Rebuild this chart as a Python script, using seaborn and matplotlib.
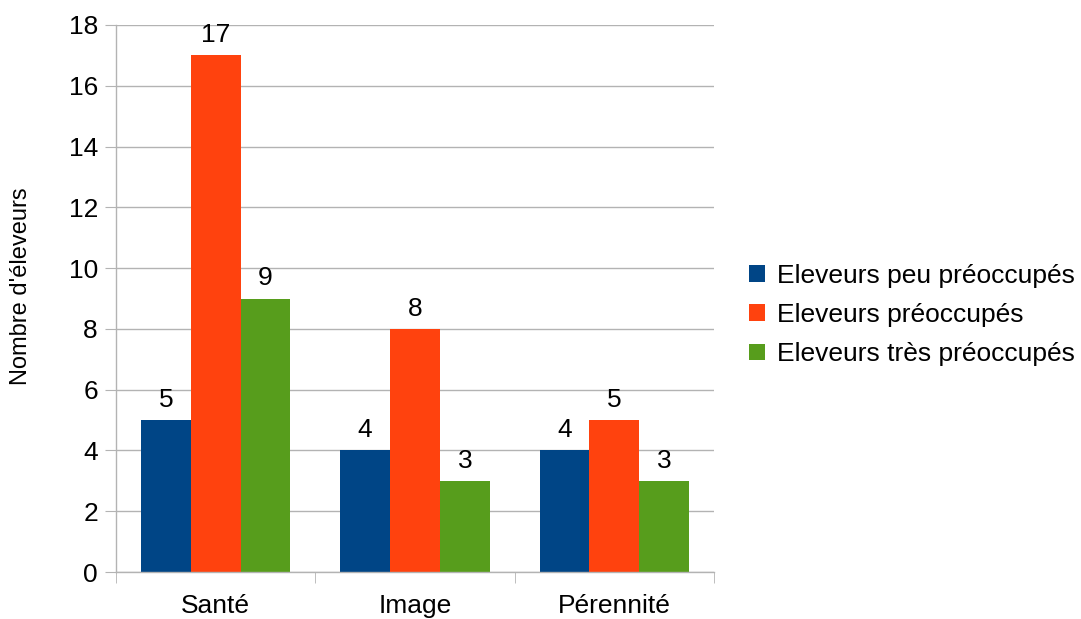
import matplotlib
matplotlib.use("Agg")
import matplotlib.pyplot as plt
import seaborn as sns
import pandas as pd

categories = ["Santé", "Image", "Pérennité"]
series_names = ["Eleveurs peu préoccupés", "Eleveurs préoccupés", "Eleveurs très préoccupés"]
peu = [5, 4, 4]
preoc = [17, 8, 5]
tres = [9, 3, 3]
colors = ["#004586", "#ff420e", "#579d1c"]

rows = []
for name, vals in zip(series_names, [peu, preoc, tres]):
    for c, v in zip(categories, vals):
        rows.append({"cat": c, "serie": name, "val": v})
df = pd.DataFrame(rows)

sns.set_style("white")
plt.rcParams["font.family"] = ["Liberation Sans", "DejaVu Sans"]
plt.rcParams["text.color"] = "black"
plt.rcParams["xtick.labelcolor"] = "black"
plt.rcParams["ytick.labelcolor"] = "black"
plt.rcParams["axes.labelcolor"] = "black"

fig = plt.figure(figsize=(10.81, 6.19), dpi=100)
ax = fig.add_axes([116/1081, 1-572/619, (714-116)/1081, (572-25)/619])

sns.barplot(data=df, x="cat", y="val", hue="serie", palette=colors,
            width=0.75, saturation=1, ax=ax, errorbar=None, legend=True,
            linewidth=0, edgecolor="none")

for cont in ax.containers:
    ax.bar_label(cont, fmt="%d", padding=6, fontsize=19, color="black")

ax.set_ylim(0, 18)
ax.set_yticks(range(0, 19, 2))
ax.set_xlim(-0.5, 2.5)
ax.yaxis.grid(True, color="#b3b3b3", linewidth=1)
ax.set_axisbelow(True)
ax.set_xlabel("")
ax.set_ylabel("Nombre d'éleveurs", fontsize=17, color="black")
ax.yaxis.set_label_coords(-(116-32)/598, (572-286)/547)
for s in ["top", "right"]:
    ax.spines[s].set_visible(False)
for s in ["left", "bottom"]:
    ax.spines[s].set_color("#b3b3b3")
    ax.spines[s].set_linewidth(1)
ax.tick_params(axis="y", length=8, color="#b3b3b3", labelsize=19, pad=5, left=True, labelcolor="black")
ax.tick_params(axis="x", which="major", length=0, labelsize=19, pad=16, labelcolor="black")
ax.set_xticks([-0.5, 0.5, 1.5, 2.5], minor=True)
ax.tick_params(axis="x", which="minor", length=8, color="#b3b3b3", bottom=True)

handles, labels = ax.get_legend_handles_labels()
leg = ax.legend(handles, labels, loc="center left", bbox_to_anchor=(736/1081, 1-315/619),
          bbox_transform=fig.transFigure, frameon=False, fontsize=19,
          handlelength=0.6, handleheight=0.6, handletextpad=0.45, labelspacing=0.58,
          borderpad=0)
for t in leg.get_texts():
    t.set_color("black")

fig.savefig("out.png", dpi=100)
